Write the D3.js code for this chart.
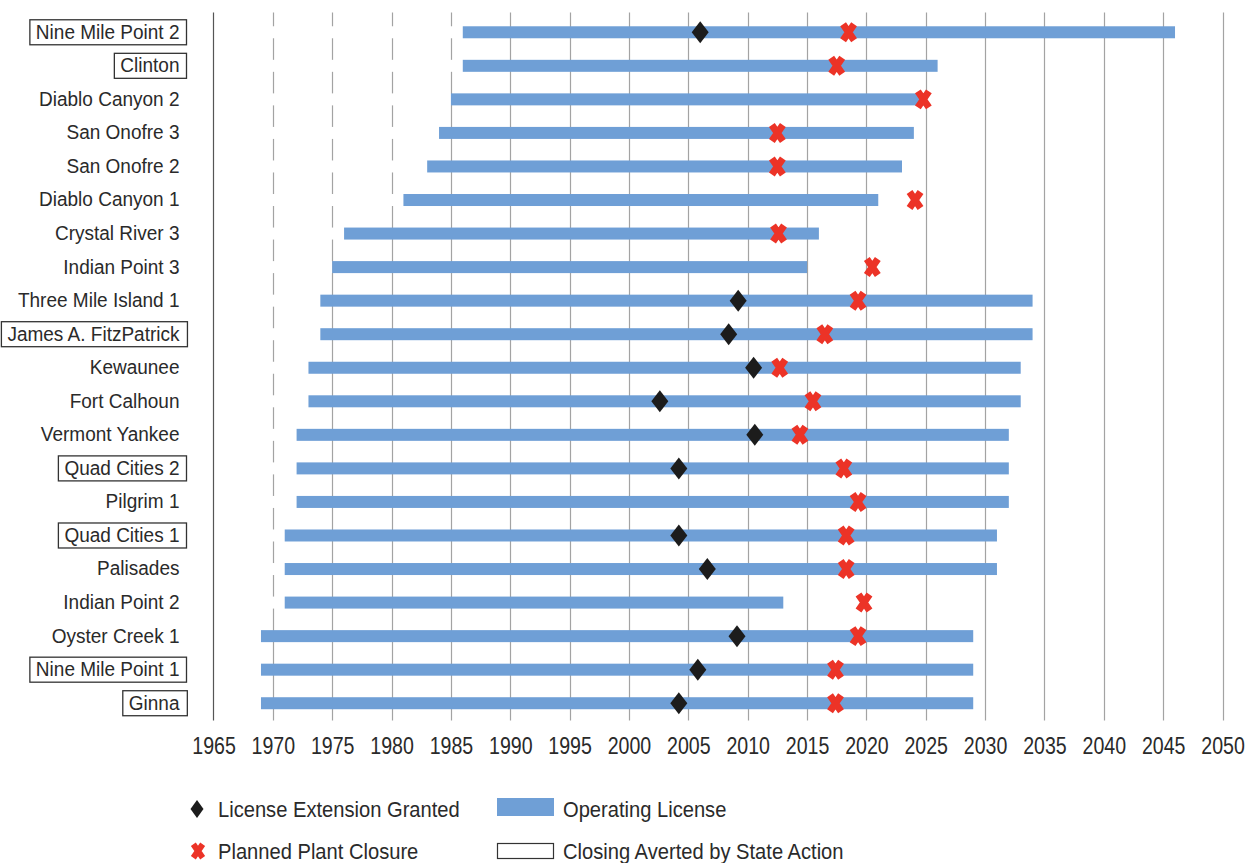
<!DOCTYPE html>
<html lang="en">
<head>
    <meta charset="UTF-8">
    <title>Nuclear plant operating licenses</title>
    <script src="https://d3js.org/d3.v7.min.js"></script>
    <style>
        body { margin: 0; background: #fff; }
        text { font-family: "Liberation Sans", Arial, sans-serif; fill: #2a2a2a; }
    </style>
</head>
<body>
    <div id="chart"></div>

    <script>
        // data, top row first
        const plants = ["Nine Mile Point 2", "Clinton", "Diablo Canyon 2", "San Onofre 3", "San Onofre 2",
            "Diablo Canyon 1", "Crystal River 3", "Indian Point 3", "Three Mile Island 1", "James A. FitzPatrick",
            "Kewaunee", "Fort Calhoun", "Vermont Yankee", "Quad Cities 2", "Pilgrim 1", "Quad Cities 1",
            "Palisades", "Indian Point 2", "Oyster Creek 1", "Nine Mile Point 1", "Ginna"];
        const licenseStart = [1986, 1986, 1985, 1984, 1983, 1981, 1976, 1975, 1974, 1974,
            1973, 1973, 1972, 1972, 1972, 1971, 1971, 1971, 1969, 1969, 1969];
        const licenseEnd = [2046, 2026, 2025, 2024, 2023, 2021, 2016, 2015, 2034, 2034,
            2033, 2033, 2032, 2032, 2032, 2031, 2031, 2013, 2029, 2029, 2029];
        const extensionYear = [2006, null, null, null, null, null, null, null, 2009.2, 2008.4,
            2010.5, 2002.6, 2010.6, 2004.2, null, 2004.2, 2006.6, null, 2009.1, 2005.8, 2004.2];
        const closureYear = [2018.5, 2017.5, 2024.8, 2012.5, 2012.5, 2024.1, 2012.6, 2020.5, 2019.3, 2016.5,
            2012.7, 2015.5, 2014.4, 2018.1, 2019.3, 2018.3, 2018.3, 2019.8, 2019.3, 2017.4, 2017.4];
        const avertedPlants = ["Nine Mile Point 2", "Clinton", "James A. FitzPatrick", "Quad Cities 2",
            "Quad Cities 1", "Nine Mile Point 1", "Ginna"];
        const yearTicks = [1965, 1970, 1975, 1980, 1985, 1990, 1995, 2000, 2005, 2010,
            2015, 2020, 2025, 2030, 2035, 2040, 2045, 2050];

        const width = 1249;
        const height = 863;
        const blue = "#6f9fd6";
        const red = "#ec3327";
        const dark = "#1c1c1c";

        const rows = plants.map((p, i) => ({
            name: p, start: licenseStart[i], end: licenseEnd[i],
            ext: extensionYear[i], close: closureYear[i]
        }));

        // squeeze text horizontally to look like the condensed face of the original
        function condense(sel, ratio) {
            sel.each(function() {
                const w = this.getComputedTextLength();
                d3.select(this)
                    .attr("textLength", w * ratio)
                    .attr("lengthAdjust", "spacingAndGlyphs");
            });
        }

        const svg = d3.select("#chart")
            .append("svg")
            .attr("width", width)
            .attr("height", height);

        const x = d3.scaleLinear().domain([1965, 2050]).range([213.5, 1222.5]);
        const y = d3.scaleBand().domain(plants).range([15.5, 720]).padding(0);
        const mid = d => y(d) + y.bandwidth() / 2;
        const barH = 12;

        // gridlines
        svg.append("g")
            .selectAll("line")
            .data(yearTicks.slice(1))
            .enter()
            .append("line")
            .attr("x1", d => Math.round(x(d)) + 0.5)
            .attr("x2", d => Math.round(x(d)) + 0.5)
            .attr("y1", 12.5)
            .attr("y2", 720.5)
            .attr("stroke", "#a3a3a3")
            .attr("stroke-width", 1.2);

        // white segment before each license hides the grid (gives the dashed look)
        svg.append("g")
            .selectAll("rect")
            .data(rows)
            .enter()
            .append("rect")
            .attr("x", x(1965))
            .attr("y", d => mid(d.name) - barH / 2)
            .attr("width", d => x(d.start) - x(1965))
            .attr("height", barH)
            .attr("fill", "#fff");

        // operating license bars
        svg.append("g")
            .selectAll("rect")
            .data(rows)
            .enter()
            .append("rect")
            .attr("x", d => x(d.start))
            .attr("y", d => mid(d.name) - barH / 2)
            .attr("width", d => x(d.end) - x(d.start))
            .attr("height", barH)
            .attr("fill", blue);

        // axis line
        svg.append("line")
            .attr("x1", 213.5).attr("x2", 213.5)
            .attr("y1", 12.5).attr("y2", 720.5)
            .attr("stroke", "#555")
            .attr("stroke-width", 1.2);

        const diamondPath = "M0,-11L8.5,0L0,11L-8.5,0Z";
        const crossPath = "M-5.5,-8L5.5,8M5.5,-8L-5.5,8";

        // license extension markers
        svg.append("g")
            .selectAll("path")
            .data(rows.filter(d => d.ext !== null))
            .enter()
            .append("path")
            .attr("d", diamondPath)
            .attr("transform", d => `translate(${x(d.ext)},${mid(d.name)})`)
            .attr("fill", dark);

        // planned closure markers
        svg.append("g")
            .selectAll("path")
            .data(rows)
            .enter()
            .append("path")
            .attr("d", crossPath)
            .attr("transform", d => `translate(${x(d.close)},${mid(d.name)})`)
            .attr("stroke", red)
            .attr("stroke-width", 7)
            .attr("fill", "none");

        // x axis
        const xAxis = svg.append("g")
            .attr("transform", "translate(0,720)")
            .call(d3.axisBottom(x).tickValues(yearTicks).tickFormat(d3.format("d")).tickSize(0).tickPadding(17));
        xAxis.select(".domain").remove();
        xAxis.selectAll("text")
            .attr("font-size", "24px")
            .attr("fill", "#2a2a2a")
            .call(condense, 0.815);

        // y axis labels
        const yAxis = svg.append("g")
            .attr("transform", "translate(213.5,0)")
            .call(d3.axisLeft(y).tickSize(0).tickPadding(34));
        yAxis.select(".domain").remove();
        yAxis.selectAll("text")
            .attr("font-size", "20px")
            .attr("fill", "#2a2a2a")
            .call(condense, 0.95);

        // boxes around plants whose closing was averted
        yAxis.selectAll(".tick")
            .filter(d => avertedPlants.includes(d))
            .each(function() {
                const t = d3.select(this).select("text");
                const bb = t.node().getBBox();
                d3.select(this).insert("rect", "text")
                    .attr("x", bb.x - 6)
                    .attr("y", -12.5)
                    .attr("width", bb.width + 13)
                    .attr("height", 25)
                    .attr("fill", "#fff")
                    .attr("stroke", "#333")
                    .attr("stroke-width", 1.3);
            });

        // legend
        const legend = svg.append("g");
        legend.append("path")
            .attr("d", "M0,-9L6.5,0L0,9L-6.5,0Z")
            .attr("transform", "translate(197,809)")
            .attr("fill", dark);
        legend.append("path")
            .attr("d", crossPath)
            .attr("transform", "translate(198,851) scale(0.85)")
            .attr("stroke", red)
            .attr("stroke-width", 7)
            .attr("fill", "none");
        legend.append("rect")
            .attr("x", 497).attr("y", 798)
            .attr("width", 57).attr("height", 18)
            .attr("fill", blue);
        legend.append("rect")
            .attr("x", 497.5).attr("y", 843.5)
            .attr("width", 56).attr("height", 15)
            .attr("fill", "#fff")
            .attr("stroke", "#333")
            .attr("stroke-width", 1.2);

        const legendText = [
            ["License Extension Granted", 218, 817],
            ["Planned Plant Closure", 218, 859],
            ["Operating License", 563, 817],
            ["Closing Averted by State Action", 563, 859]
        ];
        legend.selectAll("text")
            .data(legendText)
            .enter()
            .append("text")
            .attr("x", d => d[1])
            .attr("y", d => d[2])
            .attr("font-size", "22px")
            .text(d => d[0])
            .call(condense, 0.915);
    </script>
</body>
</html>
